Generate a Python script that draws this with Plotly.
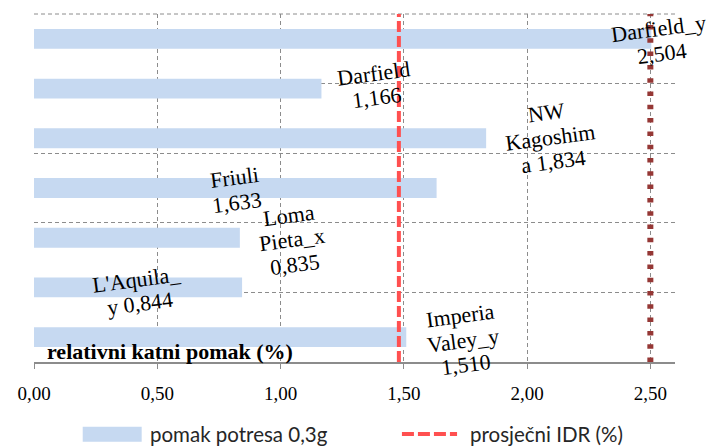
import math
import plotly.graph_objects as go

# ---- data ----
categories = ["Darfield_y", "Darfield", "NW Kagoshima", "Friuli",
              "Loma Pieta_x", "L'Aquila_y", "Imperia Valey_y"]
pomak = [2.504, 1.166, 1.834, 1.633, 0.835, 0.844, 1.510]
label_lines = [["Darfield_y", "{}"], ["Darfield", "{}"], ["NW", "Kagoshim", "a {}"],
               ["Friuli", "{}"], ["Loma", "Pieta_x", "{}"], ["L'Aquila_", "y {}"],
               ["Imperia", "Valey_y", "{}"]]
prosjecni_idr = 1.48
granicni_idr = 2.5
x_ticks = [0.0, 0.5, 1.0, 1.5, 2.0, 2.5]

# label block offsets (pixels) relative to bar end / bar centre
label_dx = [9, 54, 64, -201, 52, -104, 57]
label_dy = [-2, 3, 1, -2, -2, -4, -3]

BAR = "#C6D9F1"
RED = "#FF5050"
BROWN = "#953735"
GRID = "#8C8C8C"
SERIF = "Liberation Serif"
SANS = "Lato"
ANGLE = 7.5
LINE_H = 24.5

fig = go.Figure()
fig.add_trace(go.Bar(
    y=categories, x=pomak, orientation="h", marker=dict(color=BAR, line=dict(width=0)),
    name="pomak potresa 0,3g", showlegend=False, hoverinfo="skip"))
fig.add_trace(go.Scatter(
    x=[prosjecni_idr, prosjecni_idr], y=[0, 5], yaxis="y2", mode="lines",
    line=dict(color=RED, width=4, dash="11px,4px"), name="prosječni IDR (%)",
    showlegend=False, hoverinfo="skip"))
fig.add_trace(go.Scatter(
    x=[granicni_idr, granicni_idr], y=[0, 5], yaxis="y2", mode="lines",
    line=dict(color=BROWN, width=6, dash="4.5px,8.8px"), showlegend=False, hoverinfo="skip"))

annotations = []
s, c = math.sin(math.radians(ANGLE)), math.cos(math.radians(ANGLE))
for cat, v, lines, dx, dy in zip(categories, pomak, label_lines, label_dx, label_dy):
    n = len(lines)
    val = f"{v:.3f}".replace(".", ",")
    for i, ln in enumerate(lines):
        d = (i - (n - 1) / 2) * LINE_H
        annotations.append(dict(
            x=v, y=cat, xref="x", yref="y", text=ln.format(val),
            showarrow=False, xanchor="center", yanchor="middle",
            xshift=dx + d * s, yshift=dy - d * c,
            textangle=-ANGLE, font=dict(family=SERIF, size=22, color="black")))

annotations.append(dict(
    x=0.017, y=0.03, xref="paper", yref="paper", xanchor="left", yanchor="middle",
    text="<b>relativni katni pomak (%)</b>", showarrow=False,
    font=dict(family=SERIF, size=22, color="black")))

# legend (manual)
annotations.append(dict(x=0.178, y=-0.207, xref="paper", yref="paper", xanchor="left",
                        yanchor="middle", text="pomak potresa 0,3g", showarrow=False,
                        font=dict(family=SANS, size=20.5, color="#262626")))
annotations.append(dict(x=0.677, y=-0.207, xref="paper", yref="paper", xanchor="left",
                        yanchor="middle", text="prosječni IDR (%)", showarrow=False,
                        font=dict(family=SANS, size=20.5, color="#262626")))
shapes = [
    dict(type="line", xref="paper", yref="paper", x0=0, x1=1, y0=1, y1=1, layer="below",
         line=dict(color=GRID, width=1, dash="4px,3px")),
    dict(type="rect", xref="paper", yref="paper", x0=0.076, x1=0.168, y0=-0.229, y1=-0.186,
         fillcolor=BAR, line=dict(width=0)),
    dict(type="line", xref="paper", yref="paper", x0=0.574, x1=0.660, y0=-0.207, y1=-0.207,
         line=dict(color=RED, width=4, dash="12px,4px")),
]

fig.update_layout(
    width=712, height=448,
    margin=dict(l=34, r=37, t=14, b=86),
    paper_bgcolor="white", plot_bgcolor="white",
    separators=",.",
    bargap=0.6,
    showlegend=False,
    xaxis=dict(range=[0, 2.6], tickvals=x_ticks, tickformat=".2f",
               showgrid=True, griddash="4px,3px", gridcolor=GRID, gridwidth=1,
               zeroline=False, showline=True, linecolor=GRID, linewidth=1.5,
               ticks="outside", ticklen=5, tickcolor=GRID, ticklabelstandoff=8,
               tickfont=dict(family=SERIF, size=19, color="black")),
    yaxis=dict(categoryorder="array", categoryarray=categories,
               range=[len(categories) - 0.5, -0.5], autorange=False,
               showticklabels=False, showgrid=False, zeroline=False, showline=False,
               ticks=""),
    yaxis2=dict(overlaying="y", range=[0, 5], tickvals=[0, 1, 2, 3, 4, 5],
                showticklabels=False,
                showgrid=True, griddash="4px,3px", gridcolor=GRID, gridwidth=1,
                zeroline=False, showline=False, ticks="", side="right"),
    annotations=annotations,
    shapes=shapes,
)

fig.write_html("out.html", config={"displayModeBar": False},
               post_script="document.body.style.margin='0';")
